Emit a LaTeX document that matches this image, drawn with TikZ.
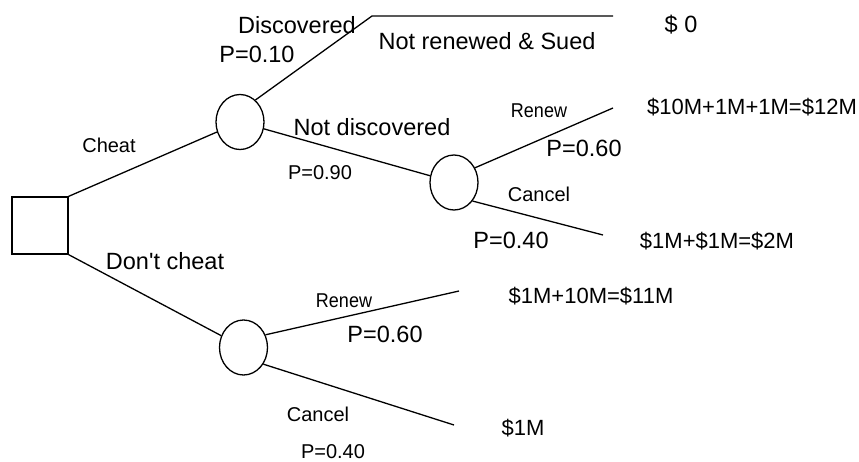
\documentclass[tikz,border=0pt]{standalone}
\usepackage{fontspec}
\usepackage{graphicx}
\setmainfont{Liberation Sans}
\usetikzlibrary{shapes.geometric}

\begin{document}
\begin{tikzpicture}[x=1pt, y=-1pt]
        \tikzstyle{decision} = [rectangle, draw, line width=1.3pt, minimum width=56pt, minimum height=57pt, inner sep=0pt]
        \tikzstyle{chance} = [ellipse, draw, line width=1.3pt, minimum width=48pt, minimum height=55pt, inner sep=0pt]
        \tikzstyle{line} = [draw, line width=1.3pt]
        \tikzstyle{lbl} = [inner sep=0pt, text depth=0pt]
        \tikzstyle{big} = [lbl, text height=16.8pt, font=\fontsize{23.5}{28}\selectfont]
        \tikzstyle{small} = [lbl, text height=14.3pt, font=\fontsize{20}{24}\selectfont]
        \tikzstyle{payoff} = [lbl, text height=15.8pt, font=\fontsize{22}{26}\selectfont]

        \useasboundingbox (0,0) rectangle (859,461);

        % decision and chance nodes
        \node [decision] (choice) at (40,225.5) {};
        \node [chance] (caught) at (240,122) {};
        \node [chance] (renewal) at (454,182.5) {};
        \node [chance] (honest) at (243.5,347.5) {};

        % ends of the branches
        \coordinate (kink) at (372,16);
        \coordinate (sued_end) at (613,16);
        \coordinate (renew_end) at (613,108);
        \coordinate (cancel_end) at (603,235);
        \coordinate (hrenew_end) at (459,291);
        \coordinate (hcancel_end) at (454,425);

        % payoffs
        \node [big] (pay_sued) at (681,24) {\$ 0};
        \node [payoff] (pay_renew) at (752,107) {\$10M+1M+1M=\$12M};
        \node [payoff] (pay_cancel) at (717,241) {\$1M+\$1M=\$2M};
        \node [payoff] (pay_hrenew) at (591,296) {\$1M+10M=\$11M};
        \node [payoff] (pay_hcancel) at (523,428) {\$1M};

        \path [line] (choice.north east) -- (caught);
        \path [line] (choice.south east) -- (honest);
        \path [line] (caught.55) -- (kink) -- (sued_end);
        \path [line] (caught.-16) -- (renewal);
        \path [line] (renewal.35) -- (renew_end);
        \path [line] (renewal.-45) -- (cancel_end);
        \path [line] (honest.30) -- (hrenew_end);
        \path [line] (honest.-40) -- (hcancel_end);

        % branch labels
        \node [small] (l_cheat) at (109,145) {Cheat};
        \node [big] (l_honest) at (165,261) {Don\textquotesingle t cheat};
        \node [big] (l_disc) at (297,25) {Discovered};
        \node [big] (p_disc) at (257,54) {P=0.10};
        \node [big] (l_sued) at (487,41) {Not renewed \& Sued};
        \node [big] (l_notdisc) at (372,127) {Not discovered};
        \node [small] (p_notdisc) at (320,172) {P=0.90};
        \node [small] (l_renew) at (539,110) {\scalebox{0.9}[1]{Renew}};
        \node [big] (p_renew) at (584,148) {P=0.60};
        \node [small] (l_cancel) at (539,194) {Cancel};
        \node [big] (p_cancel) at (511,240) {P=0.40};
        \node [small] (l_hrenew) at (344,300) {\scalebox{0.9}[1]{Renew}};
        \node [big] (p_hrenew) at (385,334) {P=0.60};
        \node [small] (l_hcancel) at (318,414) {Cancel};
        \node [small] (p_hcancel) at (333,451) {P=0.40};
    \end{tikzpicture}
\end{document}
